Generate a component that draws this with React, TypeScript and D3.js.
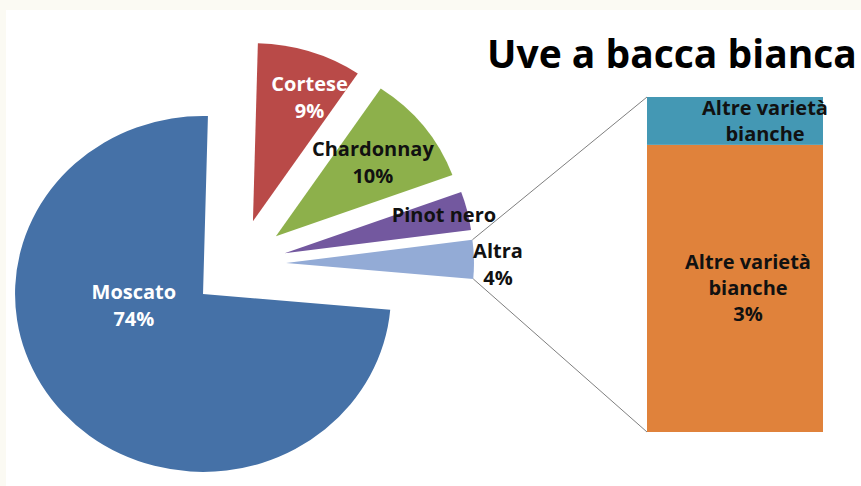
import React from 'react';
import * as d3 from 'd3';

// ---------- data ----------
const title = 'Uve a bacca bianca';
const categories = ['Cortese', 'Chardonnay', 'Pinot nero', 'Altra', 'Moscato'];
const values = [9, 10, 3.5, 3.5, 74];
const pieLabels = [['Cortese', '9%'], ['Chardonnay', '10%'], ['Pinot nero'], ['Altra', '4%'], ['Moscato', '74%']];
const barCategories = ['Altre varietà bianche', 'Altre varietà bianche'];
const barValues = [3, 0.5];
const barLabels = [['Altre varietà', 'bianche', '3%'], ['Altre varietà', 'bianche']];

// ---------- styles / layout ----------
const pieColors = ['#B94A48', '#8DB04B', '#73589F', '#93ABD6', '#4571A7'];
const pieLabelColors = ['#ffffff', '#111111', '#111111', '#111111', '#ffffff'];
const barColors = ['#E0823B', '#4498B4'];
const W = 861, H = 486;
const CX = 238.5, CY = 264, R = 178, EXPLODE = 45, SX = 1.056;
const ROT = (1.5 * Math.PI) / 180;
const BAR_X0 = 647, BAR_X1 = 823, BAR_Y0 = 97, BAR_Y1 = 432;
const FONT = "'Open Sans', 'DejaVu Sans', sans-serif";
const LABEL_SIZE = 20;
const LINE_H = 27;
// label anchors: nudge from slice centroid (screen px), first-line baseline
const labelNudge: [number, number][] = [[28, -45], [23, -25], [68, -10], [118, -3], [1, -54]];
const barLabelNudge: [number, number][] = [[13, 0], [30, 0]];

export default function App() {
  const pie = d3.pie<number>().sort(null).startAngle(ROT).endAngle(ROT + 2 * Math.PI);
  const arcs = pie(values);
  const arcGen = d3.arc<d3.PieArcDatum<number>>().innerRadius(0).outerRadius(R);

  const offsetOf = (a: d3.PieArcDatum<number>) => {
    const m = (a.startAngle + a.endAngle) / 2;
    return [EXPLODE * Math.sin(m), -EXPLODE * Math.cos(m)];
  };
  const toScreen = (x: number, y: number) => [CX + SX * x, CY + y];

  // bar scale
  const total = d3.sum(barValues);
  const y = d3.scaleLinear().domain([0, total]).range([BAR_Y1, BAR_Y0]);
  const stacks: [number, number][] = [];
  let acc = 0;
  barValues.forEach((v) => { stacks.push([acc, acc + v]); acc += v; });

  // connector lines from the "Altra" slice
  const altraIdx = categories.indexOf('Altra');
  const alt = arcs[altraIdx];
  const [aox, aoy] = offsetOf(alt);
  const pTop = toScreen(aox + R * Math.sin(alt.startAngle), aoy - R * Math.cos(alt.startAngle));
  const pBot = toScreen(aox + R * Math.sin(alt.endAngle), aoy - R * Math.cos(alt.endAngle));

  return (
    <svg width={W} height={H} viewBox={`0 0 ${W} ${H}`}
      style={{ position: 'absolute', left: 0, top: 0, display: 'block' }}
      fontFamily={FONT}>
      <rect x={0} y={0} width={W} height={H} fill="#FBFAF3" />
      <rect x={6} y={10} width={W - 6} height={H - 10} fill="#ffffff" />

      <text x={487} y={68} fontSize={39} fontWeight={700} fill="#000">{title}</text>

      <g transform={`translate(${CX},${CY}) scale(${SX},1)`}>
        {arcs.map((a, i) => {
          const [ox, oy] = offsetOf(a);
          return <path key={categories[i]} d={arcGen(a) || ''} transform={`translate(${ox},${oy})`} fill={pieColors[i]} />;
        })}
      </g>

      <line x1={pTop[0]} y1={pTop[1]} x2={BAR_X0} y2={y(total)} stroke="#7f7f7f" strokeWidth={1} />
      <line x1={pBot[0]} y1={pBot[1]} x2={BAR_X0} y2={y(0)} stroke="#7f7f7f" strokeWidth={1} />

      {stacks.map(([s0, s1], i) => (
        <rect key={'b' + i} x={BAR_X0} y={y(s1)} width={BAR_X1 - BAR_X0} height={y(s0) - y(s1)} fill={barColors[i]} />
      ))}

      {arcs.map((a, i) => {
        const [ox, oy] = offsetOf(a);
        const c = arcGen.centroid(a);
        const [sx, sy] = toScreen(c[0] + ox, c[1] + oy);
        const lx = sx + labelNudge[i][0];
        const ly = sy + labelNudge[i][1];
        return (
          <text key={'l' + i} x={lx} y={ly} textAnchor="middle" fontSize={LABEL_SIZE} fontWeight={700} fill={pieLabelColors[i]}>
            {pieLabels[i].map((t, j) => (
              <tspan key={j} x={lx} y={ly + j * LINE_H}>{t}</tspan>
            ))}
          </text>
        );
      })}

      {stacks.map(([s0, s1], i) => {
        const cx = (BAR_X0 + BAR_X1) / 2 + barLabelNudge[i][0];
        const lines = barLabels[i];
        const mid = (y(s0) + y(s1)) / 2;
        const startY = mid - ((lines.length - 1) * (LINE_H - 1)) / 2 + 7 + barLabelNudge[i][1];
        return (
          <text key={'bl' + i} textAnchor="middle" fontSize={LABEL_SIZE} fontWeight={700} fill="#111111">
            <title>{barCategories[i]}</title>
            {lines.map((t, j) => (
              <tspan key={j} x={cx} y={startY + j * (LINE_H - 1)}>{t}</tspan>
            ))}
          </text>
        );
      })}
    </svg>
  );
}
